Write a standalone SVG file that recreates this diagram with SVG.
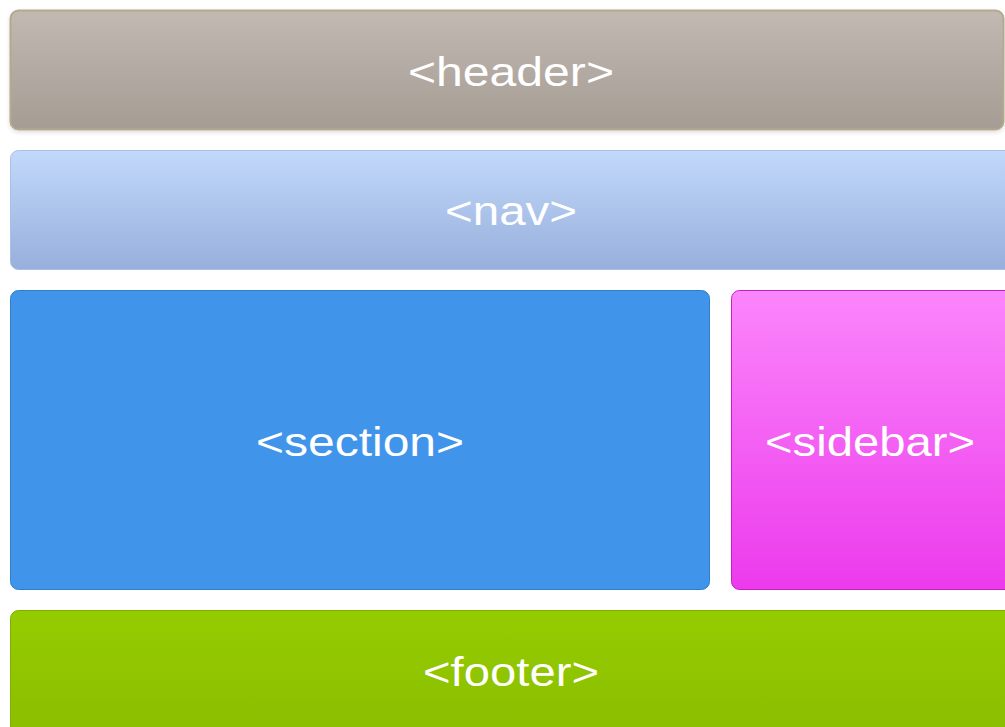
<svg xmlns="http://www.w3.org/2000/svg" width="1005" height="727" viewBox="0 0 1005 727">
<style>
.lbl{font-family:"Liberation Sans",Arial,sans-serif;font-size:40px;fill:#ffffff;text-anchor:middle}
</style>
<defs>
<linearGradient id="gHeader" x1="0" y1="0" x2="0" y2="1"><stop offset="0" stop-color="#c1b9b2"/><stop offset="1" stop-color="#a59c94"/></linearGradient>
<linearGradient id="gNav" x1="0" y1="0" x2="0" y2="1"><stop offset="0" stop-color="#c2d9fb"/><stop offset="1" stop-color="#97afdb"/></linearGradient>
<linearGradient id="gSide" x1="0" y1="0" x2="0" y2="1"><stop offset="0" stop-color="#fb86fb"/><stop offset="1" stop-color="#ec3aec"/></linearGradient>
<linearGradient id="gFoot" x1="0" y1="0" x2="0" y2="1"><stop offset="0" stop-color="#95cc00"/><stop offset="1" stop-color="#8abd00"/></linearGradient>
<filter id="sh" x="-5%" y="-10%" width="110%" height="130%"><feDropShadow dx="0" dy="2" stdDeviation="2" flood-color="#000" flood-opacity="0.12"/></filter>
</defs>
<rect width="1005" height="727" fill="#ffffff"/>
<g id="header">
<rect x="10.5" y="10.5" width="993" height="119" rx="8" fill="url(#gHeader)" stroke="#b3a98c" stroke-width="2" filter="url(#sh)"/>
<text class="lbl" x="511" y="86" textLength="206" lengthAdjust="spacingAndGlyphs">&lt;header&gt;</text>
</g>
<g id="nav">
<rect x="10.5" y="150.5" width="1010" height="119" rx="8" fill="url(#gNav)" stroke="#a9c0e6" stroke-width="1"/>
<text class="lbl" x="511" y="225" textLength="132" lengthAdjust="spacingAndGlyphs">&lt;nav&gt;</text>
</g>
<g id="section">
<rect x="10.5" y="290.5" width="699" height="299" rx="8" fill="#4095eb" stroke="#2f7fd0" stroke-width="1"/>
<text class="lbl" x="360" y="456" textLength="208" lengthAdjust="spacingAndGlyphs">&lt;section&gt;</text>
</g>
<g id="sidebar">
<rect x="731.5" y="290.5" width="290" height="299" rx="8" fill="url(#gSide)" stroke="#c41fc4" stroke-width="1"/>
<text class="lbl" x="870" y="456" textLength="210" lengthAdjust="spacingAndGlyphs">&lt;sidebar&gt;</text>
</g>
<g id="footer">
<rect x="10.5" y="610.5" width="1010" height="130" rx="8" fill="url(#gFoot)" stroke="#7faf00" stroke-width="1"/>
<text class="lbl" x="511" y="686" textLength="176" lengthAdjust="spacingAndGlyphs">&lt;footer&gt;</text>
</g>
<g id="connectors"/>
</svg>
